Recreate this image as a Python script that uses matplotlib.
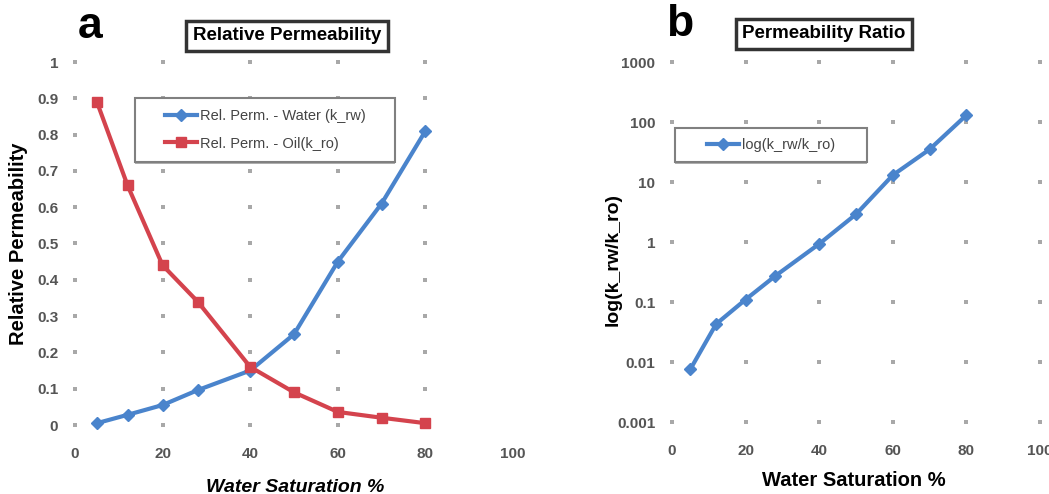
import matplotlib
matplotlib.use("Agg")
import matplotlib.pyplot as plt
from matplotlib.patches import Rectangle
import numpy as np

plt.rcParams['font.family'] = ['Liberation Sans', 'DejaVu Sans']

# Data
sw = [5, 12, 20, 28, 40, 50, 60, 70, 80]
k_rw = [0.005, 0.028, 0.055, 0.096, 0.15, 0.25, 0.45, 0.61, 0.81]
k_ro = [0.89, 0.66, 0.44, 0.34, 0.16, 0.09, 0.036, 0.02, 0.005]
ratio = [0.0076, 0.043, 0.11, 0.27, 0.93, 2.9, 13, 35, 130]

xticks_a = [0, 20, 40, 60, 80, 100]
yticks_a = [0, 0.1, 0.2, 0.3, 0.4, 0.5, 0.6, 0.7, 0.8, 0.9, 1]
ytick_labels_a = ['0', '0.1', '0.2', '0.3', '0.4', '0.5', '0.6', '0.7', '0.8', '0.9', '1']
xticks_b = [0, 20, 40, 60, 80, 100]
yticks_b = [0.001, 0.01, 0.1, 1, 10, 100, 1000]
ytick_labels_b = ['0.001', '0.01', '0.1', '1', '10', '100', '1000']

BLUE = '#4a84cc'
RED = '#d4434d'
GRIDC = '#a8a8a8'
TICKC = '#555555'

W, H = 1049, 494
fig = plt.figure(figsize=(W / 100, H / 100), dpi=100)

def px_axes(x0, x1, y0, y1):
    return fig.add_axes([x0 / W, (H - y1) / H, (x1 - x0) / W, (y1 - y0) / H])

def style(ax):
    for s in ax.spines.values():
        s.set_visible(False)
    ax.tick_params(length=0, colors=TICKC, labelsize=11)
    for lab in ax.get_xticklabels() + ax.get_yticklabels():
        lab.set_fontweight('bold')

def legend_box(ax, x0, y0, x1, y1, **kw):
    # frame drawn in figure pixels, legend centred inside it
    fig.patches.append(Rectangle((x0 / W, 1 - (y1 + 2) / H), (x1 - x0) / W, (y1 - y0) / H,
                                 transform=fig.transFigure, fc='#b0b0b0', ec='none', zorder=5))
    fig.patches.append(Rectangle((x0 / W, 1 - y1 / H), (x1 - x0) / W, (y1 - y0) / H,
                                 transform=fig.transFigure, fc='white', ec='#808080', lw=1.5, zorder=5))
    handles, labels = ax.get_legend_handles_labels()
    leg = fig.legend(handles, labels, loc='center',
                     bbox_to_anchor=((x0 + x1) / 2 / W, 1 - (y0 + y1) / 2 / H),
                     bbox_transform=fig.transFigure, frameon=False, fontsize=10.5,
                     handlelength=2.2, handletextpad=0.2, **kw)
    leg.set_zorder(6)
    for t in leg.get_texts():
        t.set_color('#444444')
    return leg

# ---- Panel a ----
axa = px_axes(75, 513, 62, 425)
axa.set_xlim(0, 100)
axa.set_ylim(0, 1)
gx, gy = np.meshgrid(xticks_a[:-1], yticks_a)
axa.scatter(gx.ravel(), gy.ravel(), marker='s', s=9, color=GRIDC, lw=0, zorder=1, clip_on=False)
axa.plot(sw, k_rw, color=BLUE, lw=3, marker='D', ms=6, label='Rel. Perm. - Water (k_rw)', zorder=3, clip_on=False)
axa.plot(sw, k_ro, color=RED, lw=3, marker='s', ms=7, label='Rel. Perm. - Oil(k_ro)', zorder=3, clip_on=False)
axa.set_xticks(xticks_a)
axa.set_yticks(yticks_a)
axa.set_yticklabels(ytick_labels_a)
axa.tick_params(axis='x', pad=16)
axa.tick_params(axis='y', pad=12)
style(axa)
axa.set_xlabel('Water Saturation %', fontsize=14, fontweight='bold', fontstyle='italic')
axa.xaxis.set_label_coords((295 - 75) / 438, -(487 - 425) / 363)
axa.set_ylabel('Relative Permeability', fontsize=14.5, fontweight='bold')
axa.yaxis.set_label_coords((19 - 75) / 438, 0.5)
axa.yaxis.label.set_va('center')
axa.xaxis.label.set_va('center')
legend_box(axa, 135, 98, 395, 162, labelspacing=0.9)
fig.text(287 / W, 1 - 36 / H, 'Relative Permeability', ha='center', va='center', fontsize=13.5,
         fontweight='bold',
         bbox=dict(boxstyle='square,pad=0.35', fc='white', ec='#333333', lw=2.5))
fig.text(78 / W, 1 - 27 / H, 'a', ha='left', va='center', fontsize=32, fontweight='bold')

# ---- Panel b ----
axb = px_axes(672, 1040, 62, 422)
axb.set_yscale('log')
axb.set_xlim(0, 100)
axb.set_ylim(0.001, 1000)
gx, gy = np.meshgrid(xticks_b, yticks_b)
axb.scatter(gx.ravel(), gy.ravel(), marker='s', s=9, color=GRIDC, lw=0, zorder=1, clip_on=False)
axb.plot(sw, ratio, color=BLUE, lw=3, marker='D', ms=6, label='log(k_rw/k_ro)', zorder=3, clip_on=False)
axb.set_xticks(xticks_b)
axb.set_yticks(yticks_b)
axb.set_yticklabels(ytick_labels_b)
axb.minorticks_off()
axb.tick_params(axis='x', pad=16)
axb.tick_params(axis='y', pad=12)
style(axb)
axb.set_xlabel('Water Saturation %', fontsize=14.5, fontweight='bold')
axb.xaxis.set_label_coords((854 - 672) / 368, -(480 - 422) / 360)
axb.xaxis.label.set_va('center')
axb.set_ylabel('log(k_rw/k_ro)', fontsize=14, fontweight='bold')
axb.yaxis.set_label_coords((613 - 672) / 368, (422 - 260) / 360)
axb.yaxis.label.set_va('center')
legend_box(axb, 675, 128, 867, 162)
fig.text(824 / W, 1 - 34 / H, 'Permeability Ratio', ha='center', va='center', fontsize=13.5,
         fontweight='bold',
         bbox=dict(boxstyle='square,pad=0.35', fc='white', ec='#333333', lw=2.5))
fig.text(666 / W, 1 - 24 / H, 'b', ha='left', va='center', fontsize=32, fontweight='bold')

fig.savefig('out.png', dpi=100, facecolor='white')
